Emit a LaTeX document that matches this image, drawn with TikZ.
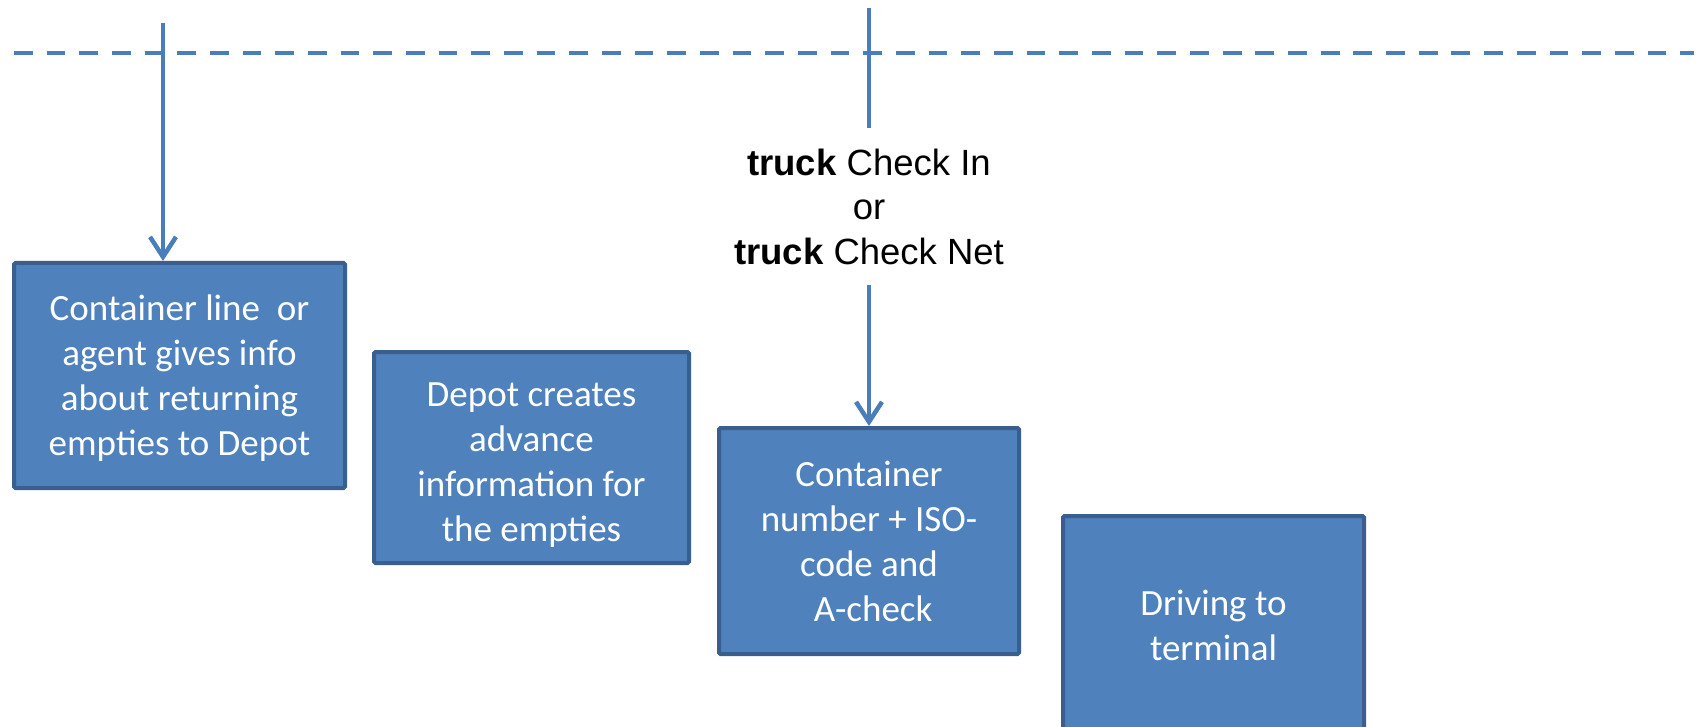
\documentclass[tikz,border=0pt]{standalone}
\usepackage{fontspec}
\setmainfont{Liberation Sans}
\newfontfamily\boxfont{Carlito}
\usetikzlibrary{arrows.meta}
\definecolor{boxfill}{HTML}{4F81BD}
\definecolor{boxline}{HTML}{3A5F8E}
\definecolor{conn}{HTML}{4A7EBB}
\begin{document}
\begin{tikzpicture}[x=1pt,y=-1pt,
  stepbox/.style={draw=boxline, line width=4pt, fill=boxfill, rounded corners=1.5pt,
    text=white, font=\boxfont\fontsize{37}{45}\selectfont, align=center, inner sep=0pt,
    text depth=0pt},
  conline/.style={draw=conn, line width=4.5pt},
  arr/.style={conline, -{Straight Barb[length=20pt,width=26pt]}},
  dashline/.style={draw=conn, line width=4pt, dash pattern=on 18.7pt off 13.97pt},
  lbl/.style={font=\fontsize{36.5}{44.5}\selectfont, align=center, inner sep=0pt}
]
\useasboundingbox (0,0) rectangle (1705,727);

\coordinate (d0) at (14,53);
\coordinate (d1) at (1694,53);
\draw[dashline] (d0) -- (d1);

\node[stepbox, minimum width=331pt, minimum height=225pt] (b1) at (179.5,375.5)
  {Container line\ \ or\\agent gives info\\about returning\\empties to Depot};
\node[stepbox, minimum width=315pt, minimum height=211pt] (b2) at (531.5,457.5)
  {\rule{0pt}{33pt}Depot creates\\advance\\information for\\the empties};
\node[stepbox, minimum width=300pt, minimum height=226pt] (b3) at (869,541)
  {Container\\number + ISO-\\code and\\\ A-check};
\node[stepbox, minimum width=301pt, minimum height=218pt] (b4) at (1213.5,625)
  {Driving to\\terminal};

\node[lbl, minimum height=157pt] (lab) at (869,206.5)
  {\textbf{truck} Check In\\or\\\textbf{truck} Check Net};

\coordinate (t1) at (163,23);
\coordinate (t2) at (869,8);
\draw[arr] (t1) -- (t1 |- b1.north);
\draw[conline] (t2) -- (lab.north);
\draw[arr] (lab.south) -- (b3.north);
\end{tikzpicture}
\end{document}
